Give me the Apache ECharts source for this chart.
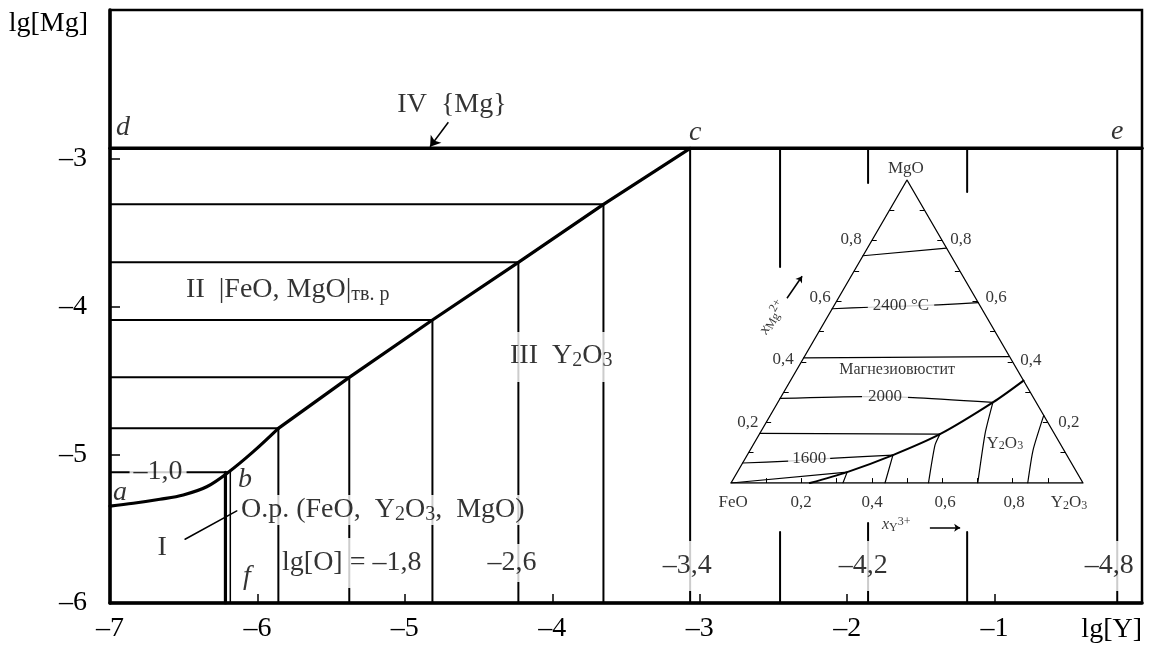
<!DOCTYPE html>
<html>
<head>
<meta charset="utf-8">
<script src="https://cdn.jsdelivr.net/npm/echarts@6/dist/echarts.min.js"></script>
<style>
  html, body { margin: 0; padding: 0; background: #fff; }
  #chart { width: 1157px; height: 657px; }
</style>
</head>
<body>
<div id="chart"></div>
<script>
// main diagram: lg[Y] on x, lg[Mg] on y
const xTicks = [-7, -6, -5, -4, -3, -2, -1];
const yTicks = [-6, -5, -4, -3];

// boundary a - b - c  [lg[Y], lg[Mg]]
const curveABC = [
  [-7, -5.346], [-6.842, -5.327], [-6.661, -5.300], [-6.503, -5.271],
  [-6.344, -5.216], [-6.197, -5.118], [-6.028, -4.979],
  [-5.858, -4.822], [-5.377, -4.478], [-4.813, -4.091], [-4.230, -3.702],
  [-3.653, -3.311], [-3.065, -2.933]
];
const bendIndex = 7; // curved part a..(-5.858), straight after
const pointB = [-6.197, -5.118];
const lineDE = [[-7, -2.933], [0, -2.933]];
// points on b-c where the isolines meet the boundary (last one is c)
const tiePoints = [
  [-5.858, -4.822], [-5.377, -4.478], [-4.813, -4.091],
  [-4.230, -3.702], [-3.653, -3.311], [-3.065, -2.933]
];
const bfThick = -6.217;
const bfThin = -6.184;
// isolines right of c, cut by the inset
const rightIsoX = [-2.455, -1.858, -1.186, -0.168];
const rightIsoTopEnd = [-3.734, -3.167, -3.228, -6];
const rightIsoBottomStart = [-5.521, -5.46, -5.521, -6];

// inset: ternary FeO - Y2O3 - MgO, points as [x(Y3+), x(Mg2+)]
const isoLines = [
  [[0, 0.750], [0.225, 0.775]],
  [[0, 0.575], [0.105, 0.580], [0.295, 0.588], [0.405, 0.595]],
  [[0, 0.413], [0.580, 0.417]],
  [[0, 0.279], [0.232, 0.285], [0.376, 0.282], [0.611, 0.266]],
  [[0, 0.164], [0.513, 0.161]],
  [[0, 0.066], [0.126, 0.072], [0.254, 0.082], [0.414, 0.092]],
  [[0, 0], [0.312, 0.036]]
];
const ternBoundary = [[0.224, 0], [0.312, 0.036], [0.414, 0.092], [0.513, 0.161], [0.611, 0.266], [0.662, 0.338]];
const y2o3Lines = [
  [[0.312, 0.036], [0.318, 0]],
  [[0.414, 0.092], [0.4375, 0]],
  [[0.513, 0.161], [0.517, 0.125], [0.561, 0]],
  [[0.611, 0.266], [0.640, 0.164], [0.701, 0]],
  [[0.777, 0.223], [0.804, 0.108], [0.843, 0]]
];

const FONT = '"Liberation Serif", "Times New Roman", serif';
const S3 = Math.sqrt(3) / 2;
const tern = p => [p[0] + p[1] / 2, p[1] * S3];
const dash = v => '\u2013' + Math.abs(v);

function line(data, width, grid, smooth) {
  return {
    type: 'line', xAxisIndex: grid, yAxisIndex: grid, data: data,
    symbol: 'none', smooth: smooth || false, silent: true, z: 3,
    lineStyle: { color: '#000', width: width, cap: 'round', join: 'round' }
  };
}

function arrows(grid, list, size) {
  return {
    type: 'lines', coordinateSystem: 'cartesian2d', xAxisIndex: grid, yAxisIndex: grid,
    clip: false, silent: true, z: 4,
    symbol: ['none', 'arrow'], symbolSize: size,
    lineStyle: { color: '#000', width: 1.5, opacity: 1 },
    data: list.map(c => ({ coords: c }))
  };
}

function notes(grid, list, base, rich) {
  return {
    type: 'scatter', xAxisIndex: grid, yAxisIndex: grid, symbolSize: 0,
    clip: false, silent: true, z: 10,
    label: Object.assign({ show: true, position: 'inside', color: '#000', fontFamily: FONT, rich: rich }, base),
    data: list.map(n => ({
      value: [n[0], n[1]],
      label: Object.assign({ formatter: n[2] }, n[3] || {})
    }))
  };
}

const richMain = {
  i: { fontFamily: FONT, fontSize: 28, fontStyle: 'italic', lineHeight: 30, color: '#000' },
  s: { fontFamily: FONT, fontSize: 20, lineHeight: 12, verticalAlign: 'bottom', color: '#000' }
};
const richInset = {
  i: { fontFamily: FONT, fontSize: 16, fontStyle: 'italic', lineHeight: 18, color: '#000' },
  s: { fontFamily: FONT, fontSize: 12, lineHeight: 8, verticalAlign: 'bottom', color: '#000' },
  p: { fontFamily: FONT, fontSize: 12, lineHeight: 8, verticalAlign: 'top', color: '#000' }
};

const white = { backgroundColor: '#fff' };
const series = [];

// main diagram lines
series.push(line(curveABC.slice(0, bendIndex + 1), 3.2, 0, 0.35));
series.push(line(curveABC.slice(bendIndex), 3.2, 0));
series.push(line(lineDE, 3.5, 0));
tiePoints.slice(0, 5).forEach(p => series.push(line([[-7, p[1]], p], 2, 0)));
tiePoints.forEach(p => series.push(line([p, [p[0], -6]], 2, 0)));
series.push(line([[-7, pointB[1]], pointB], 2, 0));
series.push(line([[bfThick, pointB[1]], [bfThick, -6]], 3.2, 0));
series.push(line([[bfThin, pointB[1]], [bfThin, -6]], 1.5, 0));
rightIsoX.forEach((x, i) => {
  series.push(line([[x, lineDE[0][1]], [x, rightIsoTopEnd[i]]], 2, 0));
  if (rightIsoBottomStart[i] > -6) series.push(line([[x, rightIsoBottomStart[i]], [x, -6]], 2, 0));
});
// leader for I
series.push(line([[-6.491, -5.570], [-6.140, -5.379]], 1.5, 0));
series.push(arrows(0, [[[-4.705, -2.7575], [-4.829, -2.922]]], 10));

// inset lines
series.push(line([[0, 0], [1, 0], [0, 1], [0, 0]].map(tern), 1.3, 1));
isoLines.forEach(l => series.push(line(l.map(tern), 1.2, 1, 0.2)));
series.push(line(ternBoundary.map(tern), 2, 1, 0.3));
y2o3Lines.forEach(l => series.push(line(l.map(tern), 1.2, 1, 0.2)));
const tickLen = 0.014;
const ternTicks = [];
for (let k = 1; k <= 9; k++) {
  const v = k / 10;
  const L = tern([0, v]), R = tern([1 - v, v]), B = tern([v, 0]);
  ternTicks.push([L, [L[0] + tickLen, L[1]]]);
  ternTicks.push([R, [R[0] - tickLen, R[1]]]);
  ternTicks.push([B, [B[0], B[1] + tickLen]]);
}
series.push({
  type: 'lines', coordinateSystem: 'cartesian2d', xAxisIndex: 1, yAxisIndex: 1, silent: true,
  lineStyle: { color: '#000', width: 1, opacity: 1 }, data: ternTicks.map(c => ({ coords: c }))
});
series.push(arrows(1, [[[0.159, 0.528], [0.202, 0.591]], [[0.565, -0.128], [0.651, -0.128]]], 6));

// labels, main diagram
series.push(notes(0, [
  [-6.912, -2.796, '{i|d}'],
  [-3.031, -2.830, '{i|c}'],
  [-0.168, -2.823, '{i|e}'],
  [-6.932, -5.258, '{i|a}'],
  [-6.084, -5.170, '{i|b}'],
  [-6.071, -5.825, '{i|f}'],
  [-4.680, -2.641, 'IV  {Mg}'],
  [-6.484, -3.889, 'II  |FeO, MgO|{s|\u0442\u0432. \u0440}', { align: 'left' }],
  [-4.307, -4.341, 'III  Y{s|2}O{s|3}', Object.assign({ align: 'left', padding: [9, 3, 11, 3] }, white)],
  [-6.125, -5.373, 'O.p. (FeO,  Y{s|2}O{s|3},  MgO)', Object.assign({ align: 'left', padding: [0, 2] }, white)],
  [-6.647, -5.629, 'I'],
  [-6.674, -5.116, '\u20131,0', Object.assign({ padding: [0, 4] }, white)],
  [-5.833, -5.730, 'lg[O] = \u20131,8', Object.assign({ align: 'left', padding: [10, 2, 10, 0] }, white)],
  [-4.273, -5.730, '\u20132,6', Object.assign({ padding: [4, 4] }, white)],
  [-3.085, -5.750, '\u20133,4', Object.assign({ padding: [10, 4] }, white)],
  [-1.891, -5.750, '\u20134,2', Object.assign({ padding: [10, 4] }, white)],
  [-0.222, -5.750, '\u20134,8', Object.assign({ padding: [10, 4] }, white)]
], { fontSize: 28, lineHeight: 30 }, richMain));

// labels, inset
series.push(notes(1, [
  [0.497, 0.898, 'MgO'],
  [0.341, 0.696, '0,8'], [0.253, 0.531, '0,6'], [0.148, 0.352, '0,4'], [0.048, 0.173, '0,2'],
  [0.653, 0.696, '0,8'], [0.753, 0.531, '0,6'], [0.852, 0.349, '0,4'], [0.960, 0.173, '0,2'],
  [0.006, -0.057, 'FeO'], [0.199, -0.057, '0,2'], [0.401, -0.057, '0,4'],
  [0.608, -0.057, '0,6'], [0.804, -0.057, '0,8'], [0.960, -0.057, 'Y{s|2}O{s|3}'],
  [0.483, 0.506, '2400 \u00b0C', Object.assign({ padding: [0, 5] }, white)],
  [0.472, 0.324, '\u041c\u0430\u0433\u043d\u0435\u0437\u0438\u043e\u0432\u044e\u0441\u0442\u0438\u0442', { fontSize: 16 }],
  [0.4375, 0.247, '2000', Object.assign({ padding: [0, 6] }, white)],
  [0.222, 0.071, '1600', Object.assign({ padding: [0, 4] }, white)],
  [0.778, 0.114, 'Y{s|2}O{s|3}'],
  [0.429, -0.119, '{i|x}{s|Y}{p|3+}', { align: 'left' }],
  [0.1165, 0.474, '{i|x}{s|Mg}{p|2+}', { rotate: 60 }]
], { fontSize: 17, lineHeight: 18 }, richInset));

const chart = echarts.init(document.getElementById('chart'));
chart.setOption({
  animation: false,
  backgroundColor: '#fff',
  grid: [
    { left: 110, right: 15, top: 10, bottom: 54, show: true, borderColor: '#000', borderWidth: 2.5 },
    { left: 731, top: 180, width: 352, height: 303, show: false }
  ],
  xAxis: [
    {
      type: 'value', gridIndex: 0, min: -7, max: 0, interval: 1,
      name: 'lg[Y]', nameLocation: 'end', nameGap: 0,
      nameTextStyle: { fontFamily: FONT, fontSize: 28, color: '#000', align: 'right', verticalAlign: 'top', padding: [13, 0, 0, 0] },
      axisLine: { onZero: false, lineStyle: { color: '#000', width: 3.5 } },
      axisTick: { inside: true, length: 9, lineStyle: { color: '#000', width: 1.5 } },
      axisLabel: {
        margin: 12, fontFamily: FONT, fontSize: 28, color: '#000',
        formatter: v => xTicks.indexOf(v) >= 0 ? dash(v) : ''
      },
      splitLine: { show: false }
    },
    { type: 'value', gridIndex: 1, min: 0, max: 1, show: false }
  ],
  yAxis: [
    {
      type: 'value', gridIndex: 0, min: -6, max: -2, interval: 1,
      name: 'lg[Mg]', nameLocation: 'end', nameGap: 0,
      nameTextStyle: { fontFamily: FONT, fontSize: 28, color: '#000', align: 'right', verticalAlign: 'top', padding: [0, 22, 0, 0] },
      axisLine: { onZero: false, lineStyle: { color: '#000', width: 3.5 } },
      axisTick: { inside: true, length: 10, lineStyle: { color: '#000', width: 1.5 } },
      axisLabel: {
        margin: 23, fontFamily: FONT, fontSize: 28, color: '#000',
        formatter: v => yTicks.indexOf(v) >= 0 ? dash(v) : ''
      },
      splitLine: { show: false }
    },
    { type: 'value', gridIndex: 1, min: 0, max: S3, show: false }
  ],
  series: series
});
</script>
</body>
</html>
